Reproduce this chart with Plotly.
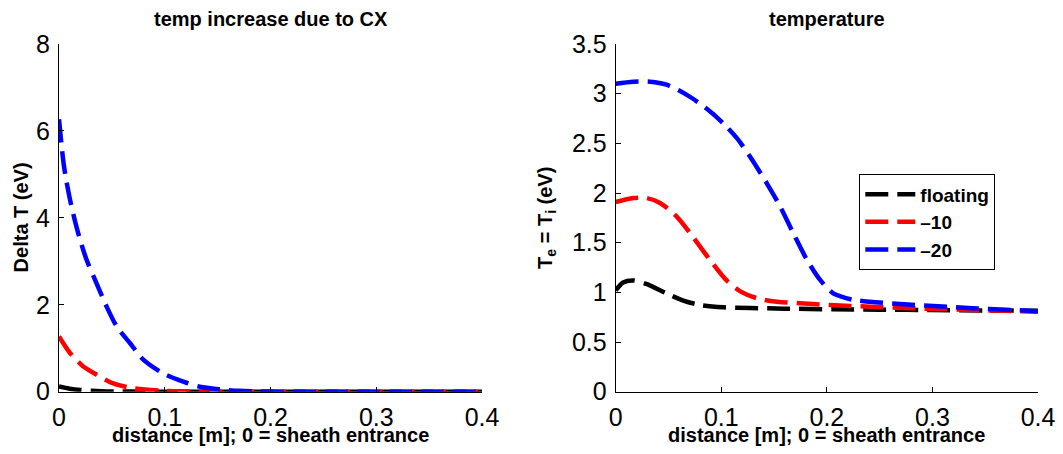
import plotly.graph_objects as go

# ---------------- data ----------------
# Left panel: temperature increase due to CX (eV)
x_dT_floating = [0, 0.01, 0.02, 0.04, 0.06, 0.08, 0.1, 0.15, 0.2, 0.25, 0.3, 0.35, 0.4]
dT_floating = [0.12, 0.07, 0.04, 0.012, 0.004, 0.001, 0, 0, 0, 0, 0, 0, 0]

x_dT_m10 = [0, 0.0104, 0.023, 0.0357, 0.0513, 0.0703, 0.0955, 0.12, 0.15, 0.2, 0.25, 0.3, 0.35, 0.4]
dT_m10 = [1.27, 0.89, 0.58, 0.39, 0.19, 0.08, 0.025, 0.008, 0, 0, 0, 0, 0, 0]

x_dT_m20 = [0, 0.0047, 0.0104, 0.018, 0.026, 0.034, 0.045, 0.0546, 0.067, 0.080, 0.0986,
            0.1175, 0.133, 0.152, 0.17, 0.19, 0.25, 0.3, 0.35, 0.4]
dT_m20 = [6.27, 5.19, 4.42, 3.66, 3.04, 2.58, 1.96, 1.50, 1.12, 0.73, 0.42,
          0.23, 0.115, 0.055, 0.02, 0.005, 0, 0, 0, 0]

# Right panel: Te = Ti (eV)
x_T_floating = [0, 0.007, 0.0167, 0.029, 0.048, 0.064, 0.080, 0.102, 0.127, 0.159, 0.206,
                0.25, 0.3, 0.35, 0.4]
T_floating = [1.02, 1.10, 1.12, 1.085, 0.99, 0.917, 0.873, 0.85, 0.843, 0.836, 0.83,
              0.826, 0.822, 0.818, 0.815]

x_T_m10 = [0, 0.0167, 0.029, 0.042, 0.058, 0.073, 0.089, 0.105, 0.118, 0.134, 0.153,
           0.175, 0.203, 0.241, 0.273, 0.305, 0.338, 0.37, 0.4]
T_m10 = [1.91, 1.95, 1.95, 1.90, 1.76, 1.56, 1.33, 1.12, 1.01, 0.94, 0.906,
         0.89, 0.873, 0.855, 0.843, 0.832, 0.822, 0.814, 0.806]

x_T_m20 = [0, 0.0167, 0.0325, 0.048, 0.067, 0.086, 0.102, 0.115, 0.127, 0.143, 0.156,
           0.168, 0.181, 0.194, 0.206, 0.213, 0.225, 0.241, 0.273, 0.305, 0.338, 0.370, 0.4]
T_m20 = [3.10, 3.12, 3.12, 3.09, 2.99, 2.85, 2.70, 2.55, 2.37, 2.10, 1.86,
         1.60, 1.33, 1.12, 0.99, 0.96, 0.925, 0.905, 0.88, 0.86, 0.84, 0.825, 0.81]

series_names = ["floating", "\u201310", "\u201320"]
series_colors = ["#000000", "#FF0000", "#0000FF"]

x_ticks = [0, 0.1, 0.2, 0.3, 0.4]
x_ticktext = ["0", "0.1", "0.2", "0.3", "0.4"]
y1_ticks = [0, 2, 4, 6, 8]
y1_ticktext = ["0", "2", "4", "6", "8"]
y2_ticks = [0, 0.5, 1, 1.5, 2, 2.5, 3, 3.5]
y2_ticktext = ["0", "0.5", "1", "1.5", "2", "2.5", "3", "3.5"]

title_left = "temp increase due to CX"
title_right = "temperature"
xlabel = "distance [m]; 0 = sheath entrance"
ylabel_left = "Delta T (eV)"
ylabel_right = "T<sub>e</sub> = T<sub>i</sub> (eV)"

# ---------------- figure ----------------
W, H = 1063, 454
FONT = "Liberation Sans, Arial, Helvetica, sans-serif"
DASH = "23px,9px"
LW = 4.5

fig = go.Figure()

left = [(x_dT_floating, dT_floating), (x_dT_m10, dT_m10), (x_dT_m20, dT_m20)]
right = [(x_T_floating, T_floating), (x_T_m10, T_m10), (x_T_m20, T_m20)]

for (xs, ys), name, col in zip(left, series_names, series_colors):
    fig.add_trace(go.Scatter(x=xs, y=ys, mode="lines", name=name, showlegend=False,
                             line=dict(color=col, width=LW, dash=DASH, shape="spline", smoothing=0.8),
                             cliponaxis=False, xaxis="x", yaxis="y"))
for (xs, ys), name, col in zip(right, series_names, series_colors):
    fig.add_trace(go.Scatter(x=xs, y=ys, mode="lines", name=name, showlegend=True,
                             line=dict(color=col, width=LW, dash=DASH, shape="spline", smoothing=0.8),
                             cliponaxis=False, xaxis="x2", yaxis="y2"))

def px_x(p):
    return p / W

def px_y(p):
    return 1 - p / H

axis_common = dict(showgrid=False, zeroline=False, showline=True, linecolor="#000000", linewidth=1,
                   ticks="inside", ticklen=5, tickwidth=1, tickcolor="#000000", mirror=False,
                   tickfont=dict(family=FONT, size=25, color="#000000"), tickmode="array",
                   fixedrange=True, automargin=False)

ydom = [px_y(391.7), px_y(44)]
fig.update_layout(
    template="none",
    width=W, height=H, margin=dict(l=0, r=0, t=0, b=0, pad=0, autoexpand=False),
    paper_bgcolor="white", plot_bgcolor="white",
    xaxis=dict(domain=[px_x(59), px_x(482)], range=[0, 0.4], anchor="y",
               tickvals=x_ticks, ticktext=x_ticktext, ticklabelstandoff=3, **axis_common),
    yaxis=dict(domain=ydom, range=[0, 8], anchor="x",
               tickvals=y1_ticks, ticktext=y1_ticktext, ticklabelstandoff=3, **axis_common),
    xaxis2=dict(domain=[px_x(615.7), px_x(1038)], range=[0, 0.4], anchor="y2",
                tickvals=x_ticks, ticktext=x_ticktext, ticklabelstandoff=3, **axis_common),
    yaxis2=dict(domain=ydom, range=[0, 3.5], anchor="x2",
                tickvals=y2_ticks, ticktext=y2_ticktext, ticklabelstandoff=3, **axis_common),
    legend=dict(x=px_x(859.3), y=px_y(174.3), xanchor="left", yanchor="top",
                bgcolor="white", bordercolor="#000000", borderwidth=1,
                font=dict(family=FONT, size=19, color="#000000", weight="bold"),
                itemwidth=50, tracegroupgap=0),
    font=dict(family=FONT, color="#000000"),
)

lab_font = dict(family=FONT, size=20, color="#000000", weight="bold")
ann = [
    dict(text=title_left, x=px_x(270.5), y=px_y(18.5)),
    dict(text=title_right, x=px_x(826.9), y=px_y(18.5)),
    dict(text=xlabel, x=px_x(270.5), y=px_y(435)),
    dict(text=xlabel, x=px_x(826.9), y=px_y(435)),
    dict(text=ylabel_left, x=px_x(20.5), y=px_y(217.9), textangle=-90),
    dict(text=ylabel_right, x=px_x(547), y=px_y(217.9), textangle=-90),
]
for a in ann:
    fig.add_annotation(xref="paper", yref="paper", xanchor="center", yanchor="middle",
                       showarrow=False, font=lab_font, **a)

fig.write_html("out.html")
